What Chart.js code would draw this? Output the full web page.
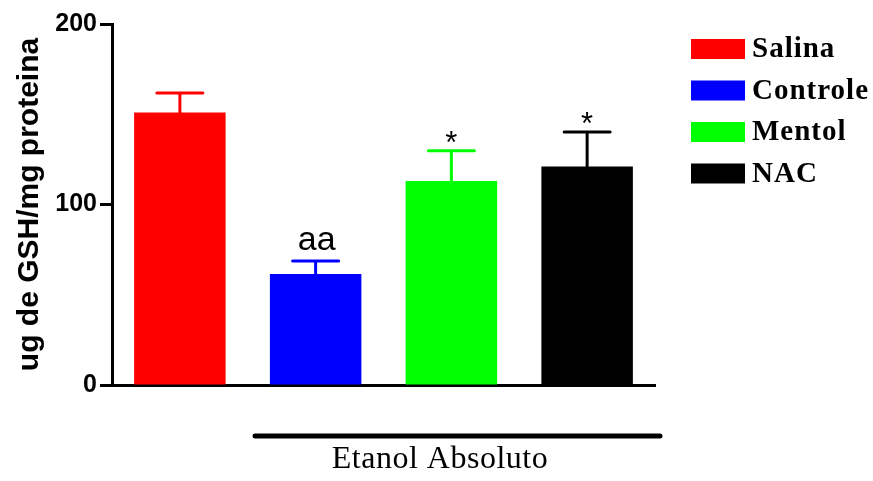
<!DOCTYPE html>
<html>
<head>
<meta charset="utf-8">
<script src="https://cdn.jsdelivr.net/npm/chart.js@4"></script>
<style>
  html, body { margin: 0; padding: 0; background: #fff; }
  #wrap { width: 873px; height: 481px; position: relative; }
</style>
</head>
<body>
<div id="wrap"><canvas id="gshChart"></canvas></div>
<script>
// data
const groups = ['Salina', 'Controle', 'Mentol', 'NAC'];
const means = [151, 61.5, 113, 121];
const sem = [10.8, 7.2, 16.8, 19.2];
const marks = ['', 'aa', '*', '*'];
const colors = ['#ff0000', '#0000ff', '#00ff00', '#000000'];
const yTicks = [0, 100, 200];

const sans = '"Liberation Sans", Arial, sans-serif';
const serif = '"Liberation Serif", "Times New Roman", serif';

// error bars + significance marks
const errorBars = {
  id: 'errorBars',
  afterDatasetsDraw(chart) {
    const { ctx } = chart;
    const y = chart.scales.y;
    const bars = chart.getDatasetMeta(0).data;
    ctx.save();
    bars.forEach((bar, i) => {
      const top = y.getPixelForValue(means[i] + sem[i]);
      ctx.strokeStyle = colors[i];
      ctx.lineWidth = 3;
      ctx.lineCap = 'round';
      ctx.beginPath();
      ctx.moveTo(bar.x, bar.y);
      ctx.lineTo(bar.x, top);
      ctx.moveTo(bar.x - 23, top);
      ctx.lineTo(bar.x + 23, top);
      ctx.stroke();
      if (marks[i]) {
        ctx.fillStyle = '#000';
        ctx.textAlign = 'center';
        ctx.textBaseline = 'alphabetic';
        if (marks[i] === '*') {
          ctx.font = '31px ' + sans;
          ctx.fillText('*', bar.x, top + 2);
        } else {
          ctx.font = '34px ' + sans;
          ctx.fillText(marks[i], bar.x + 1, top - 11);
        }
      }
    });
    ctx.restore();
  }
};

// legend on the right, group bracket underneath
const extras = {
  id: 'extras',
  afterDraw(chart) {
    const { ctx } = chart;
    ctx.save();
    ctx.textAlign = 'left';
    ctx.textBaseline = 'middle';
    ctx.font = 'bold 29px ' + serif;
    ctx.letterSpacing = '1px';
    groups.forEach((g, i) => {
      const yy = 39 + i * 41.5;
      ctx.fillStyle = colors[i];
      ctx.fillRect(691, yy, 54, 20);
      ctx.fillStyle = '#000';
      ctx.fillText(g, 752, yy + 11);
    });

    ctx.strokeStyle = '#000';
    ctx.lineWidth = 5;
    ctx.lineCap = 'round';
    ctx.beginPath();
    ctx.moveTo(255, 436);
    ctx.lineTo(660, 436);
    ctx.stroke();

    ctx.font = '32px ' + serif;
    ctx.letterSpacing = '0.5px';
    ctx.textAlign = 'center';
    ctx.textBaseline = 'alphabetic';
    ctx.fillText('Etanol Absoluto', 440, 468);
    ctx.restore();
  }
};

const ctx = document.getElementById('gshChart').getContext('2d');
new Chart(ctx, {
  type: 'bar',
  data: {
    labels: groups,
    datasets: [{
      data: means,
      backgroundColor: colors,
      borderWidth: 0,
      categoryPercentage: 1,
      barPercentage: 0.674
    }]
  },
  options: {
    responsive: true,
    maintainAspectRatio: false,
    animation: false,
    layout: { padding: { left: 0, right: 218, top: 24, bottom: 96 } },
    plugins: { legend: { display: false }, tooltip: { enabled: false } },
    scales: {
      x: {
        ticks: { display: false },
        grid: { display: false },
        border: { display: true, color: '#000', width: 3 },
        afterFit: s => { s.height = 0; }
      },
      y: {
        min: 0,
        max: 200,
        afterFit: s => { s.width = 112; },
        afterBuildTicks: s => { s.ticks = yTicks.map(v => ({ value: v })); },
        ticks: {
          color: '#000',
          padding: 3,
          font: { family: sans, size: 25, weight: 'bold' }
        },
        grid: {
          drawOnChartArea: false,
          drawTicks: true,
          tickLength: 12,
          tickWidth: 3,
          tickColor: '#000'
        },
        border: { display: true, color: '#000', width: 3 },
        title: {
          display: true,
          text: 'ug de GSH/mg proteina',
          color: '#000',
          padding: { top: 12, bottom: 0 },
          font: { family: sans, size: 30, weight: 'bold' }
        }
      }
    }
  },
  plugins: [errorBars, extras]
});
</script>
</body>
</html>
